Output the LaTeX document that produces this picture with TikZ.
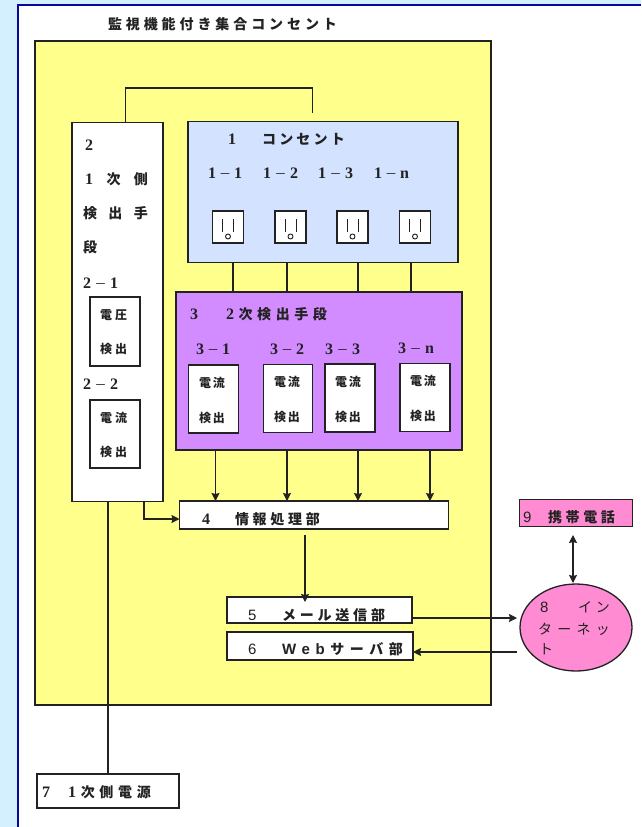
\documentclass[tikz,border=0pt]{standalone}
\usepackage{fontspec}
\usetikzlibrary{arrows.meta,shapes.geometric}
\newfontfamily\jp{Noto Sans CJK JP}
\newfontfamily\sr{Liberation Serif}
\newfontfamily\sn{Liberation Sans}
\def\sploop#1#2\relax{#1\ifx\relax#2\relax\else\hfil\sploop#2\relax\fi}
\newcommand\spr[2]{\makebox[#1pt][s]{\sploop#2\relax}}
\newcommand\mn{{{\jp\mdseries\fontsize{12}{12}\selectfont －}}}
\definecolor{pageblue}{HTML}{D4F0FF}
\definecolor{navy}{HTML}{0808A0}
\definecolor{ylw}{HTML}{FFFF8C}
\definecolor{paleblue}{HTML}{D2E2FF}
\definecolor{purp}{HTML}{D28CFF}
\definecolor{pnk}{HTML}{FF8CD2}
\definecolor{ink}{HTML}{222222}
\tikzset{
  box/.style={draw=ink,line width=1.3pt,anchor=north west,inner sep=0pt,outer sep=0pt,fill=white},
  wire/.style={draw=ink,line width=1.3pt},
  arr/.style={wire,-{Stealth[inset=1pt,length=8pt,width=8pt]}},
  darr/.style={wire,{Stealth[inset=1pt,length=8pt,width=8pt]}-{Stealth[inset=1pt,length=8pt,width=8pt]}},
  lab/.style={anchor=west,inner sep=0pt,outer sep=0pt,text=ink,font=\jp\fontsize{14}{14}\selectfont},
  blab/.style={lab,font=\jp\bfseries\fontsize{14}{14}\selectfont},
  slab/.style={lab,font=\jp\bfseries\fontsize{12}{12}\selectfont},
  num/.style={lab,font=\sr\bfseries\fontsize{16}{16}\selectfont},
  snum/.style={lab,font=\sn\fontsize{15}{15}\selectfont},
}
\begin{document}
\begin{tikzpicture}[x=1pt,y=-1pt]
\useasboundingbox (0,0) rectangle (641,827);
\fill[pageblue] (0,0) rectangle (641,827);
\fill[white] (17.8,5.2) rectangle (641,827);
\draw[navy,line width=2pt] (17.8,827) -- (17.8,5.2) -- (641,5.2);
% main boxes
\node[box,fill=ylw,minimum width=456pt,minimum height=664pt] (main) at (35,41) {};
\node[box,minimum width=91pt,minimum height=379pt] (b2) at (72,122.5) {};
\node[box,fill=paleblue,minimum width=270pt,minimum height=141pt] (b1) at (188,121.5) {};
\node[box,fill=purp,minimum width=286pt,minimum height=158pt] (b3) at (176,292) {};
\node[box,minimum width=269pt,minimum height=28pt] (b4) at (179.5,501) {};
\node[box,minimum width=185pt,minimum height=26pt] (b5) at (227,597) {};
\node[box,minimum width=186pt,minimum height=28pt] (b6) at (227,632) {};
\node[box,minimum width=142pt,minimum height=34pt] (b7) at (37,774) {};
\node[box,fill=pnk,minimum width=113pt,minimum height=27pt] (b9) at (519.5,499.5) {};
\node[draw=ink,line width=1.3pt,fill=pnk,ellipse,minimum width=112pt,minimum height=87pt,inner sep=0pt,outer sep=0pt] (b8) at (576,627.5) {};
% sockets
\foreach \n/\xx in {a/212.5,b/275,c/337,d/399.5}{
  \node[box,minimum width=31pt,minimum height=32pt] (s\n) at (\xx,211) {};
  \draw[ink,line width=1pt] ([xshift=10pt,yshift=-8pt]s\n.north west) -- ++(0,-13pt)
    ([xshift=21pt,yshift=-8pt]s\n.north west) -- ++(0,-13pt);
  \draw[ink,line width=.9pt] ([xshift=15.5pt,yshift=-25.5pt]s\n.north west) circle (2.5pt);
}
% detector boxes
\node[box,minimum width=50pt,minimum height=69pt] (d21) at (90,297) {};
\node[box,minimum width=50pt,minimum height=68pt] (d22) at (90,400) {};
\node[box,minimum width=50pt,minimum height=68pt] (d31) at (188.5,365) {};
\node[box,minimum width=49pt,minimum height=68pt] (d32) at (263.5,364.5) {};
\node[box,minimum width=50pt,minimum height=68pt] (d33) at (325,364) {};
\node[box,minimum width=50pt,minimum height=68pt] (d3n) at (400,363.5) {};
% helper coordinates
\coordinate (xa) at (233,0);
\coordinate (xb) at (287,0);
\coordinate (xc) at (358,0);
\coordinate (xd) at (411,0);
\coordinate (xe) at (215.5,0);
\coordinate (xf) at (430,0);
\coordinate (xp) at (108,0);
\coordinate (xq) at (144,0);
\coordinate (xr) at (125.5,0);
\coordinate (xs) at (312.5,0);
\coordinate (yt) at (0,88);
\coordinate (fa) at (312.5,113);
\coordinate (fb) at (305,535);
\coordinate (fc) at (305,602);
\coordinate (fd) at (573,535);
\coordinate (fe) at (573,583);
\coordinate (ff) at (517,618);
\coordinate (fg) at (517,652);
\coordinate (fh) at (413,652);
\coordinate (fi) at (412,618);
\coordinate (fj) at (144,519);
% connectors
\draw[wire] (xr |- b2.north) -- (xr |- yt) -- (xs |- yt) -- (fa);
\foreach \k in {a,b,c,d}{\draw[wire] (x\k |- b1.south) -- (x\k |- b3.north);}
\draw[arr] (xe |- b3.south) -- (xe |- b4.north);
\draw[arr] (xb |- b3.south) -- (xb |- b4.north);
\draw[arr] (xc |- b3.south) -- (xc |- b4.north);
\draw[arr] (xf |- b3.south) -- (xf |- b4.north);
\draw[arr] (xq |- b2.south) -- (fj) -- (fj -| b4.west);
\draw[wire] (xp |- b2.south) -- (xp |- b7.north);
\draw[arr] (fb) -- (fc);
\draw[arr] (fi) -- (ff);
\draw[arr] (fg) -- (fh);
\draw[darr] (fd) -- (fe);
% texts
\node[blab] (t0) at (108,24) {\spr{229}{監視機能付き集合コンセント}};
\node[num] (t2) at (85,145) {2};
\node[blab] (t21) at (85,179) {\spr{63}{{{\sr\fontsize{16}{16}\selectfont 1}}次側}};
\node[blab] (t22) at (83,213) {\spr{65}{検出手}};
\node[blab] (t23) at (83,247) {段};
\node[num] (t24) at (83,283) {\spr{35}{2\mn 1}};
\node[num] (t25) at (83,384) {\spr{35}{2\mn 2}};
\node[slab] (t26) at (100,315) {\spr{27}{電圧}};
\node[slab] (t27) at (100,349) {\spr{27}{検出}};
\node[slab] (t28) at (100,418) {\spr{27}{電流}};
\node[slab] (t29) at (100,452) {\spr{27}{検出}};
\node[num] (t11) at (228,139) {1};
\node[blab] (t12) at (262,139) {\spr{83}{コンセント}};
\node[num] (t13) at (208,173) {\spr{34}{1\mn 1}};
\node[num] (t14) at (263,173) {\spr{35}{1\mn 2}};
\node[num] (t15) at (318,173) {\spr{35}{1\mn 3}};
\node[num] (t16) at (374,173) {\spr{35}{1\mn n}};
\node[num] (t31) at (190,314) {3};
\node[blab] (t32) at (226,314) {\spr{101}{{{\sr\fontsize{16}{16}\selectfont 2}}次検出手段}};
\node[num] (t33) at (196,349) {\spr{34}{3\mn 1}};
\node[num] (t34) at (270,349) {\spr{34}{3\mn 2}};
\node[num] (t35) at (325,349) {\spr{35}{3\mn 3}};
\node[num] (t36) at (398,348) {\spr{36}{3\mn n}};
\node[slab] (t37) at (199,383) {\spr{26}{電流}};
\node[slab] (t38) at (199,418) {\spr{26}{検出}};
\node[slab] (t39) at (274,382) {\spr{26}{電流}};
\node[slab] (t3a) at (274,417) {\spr{26}{検出}};
\node[slab] (t3b) at (335,382) {\spr{26}{電流}};
\node[slab] (t3c) at (335,417) {\spr{26}{検出}};
\node[slab] (t3d) at (410,381) {\spr{26}{電流}};
\node[slab] (t3e) at (410,416) {\spr{26}{検出}};
\node[num] (t41) at (202,519) {4};
\node[blab] (t42) at (235,519) {\spr{85}{情報処理部}};
\node[snum] (t51) at (248,615) {5};
\node[blab] (t52) at (282,615) {\spr{103}{メール送信部}};
\node[snum] (t61) at (248,649) {6};
\node[blab] (t62) at (282,649) {\spr{121}{{{\sn\fontsize{15}{15}\selectfont W}}{{\sn\fontsize{15}{15}\selectfont e}}{{\sn\fontsize{15}{15}\selectfont b}}サーバ部}};
\node[snum] (t91) at (523,517) {9};
\node[blab] (t92) at (548,517) {\spr{67}{携帯電話}};
\node[snum] (t81) at (540,607) {8};
\node[lab] (t82) at (578,607) {\spr{32}{イン}};
\node[lab] (t83) at (538,629) {\spr{72}{ターネッ}};
\node[lab] (t84) at (539,649) {ト};
\node[num] (t71) at (42,792) {7};
\node[blab] (t72) at (68,792) {\spr{83}{{{\sr\fontsize{16}{16}\selectfont 1}}次側電源}};
\end{tikzpicture}
\end{document}
